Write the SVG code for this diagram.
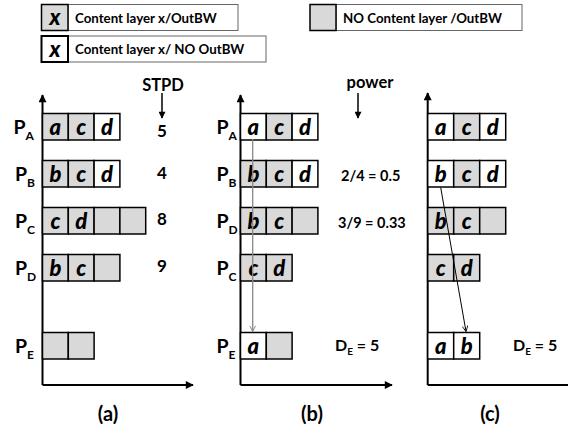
<svg xmlns="http://www.w3.org/2000/svg" width="568" height="432" viewBox="0 0 568 432">
<style>
.g{fill:#d9d9d9;stroke:#000;stroke-width:1.5}
.w{fill:#fff;stroke:#000;stroke-width:1.5}
.lb{fill:#fff;stroke:#666;stroke-width:1}
.c{font-family:Lato,"Open Sans","Liberation Sans",sans-serif;font-weight:900;font-style:italic;font-size:22px;text-anchor:middle;fill:#000}
.t{font-family:Lato,"Open Sans","Liberation Sans",sans-serif;font-weight:bold;fill:#000}
.P{font-size:19.5px}
.s{font-size:12px}
.lt{font-size:13.3px}
.lx{font-family:Lato,"Open Sans","Liberation Sans",sans-serif;font-weight:900;font-style:italic;font-size:22px;text-anchor:middle}
.ax{stroke:#000;stroke-width:2;fill:none}
</style>
<defs>
<marker id="ah" viewBox="0 0 10 10" refX="9" refY="5" markerUnits="userSpaceOnUse" markerWidth="9" markerHeight="8" orient="auto"><path d="M0,0L10,5L0,10z" fill="#000"/></marker>
<marker id="ah2" viewBox="0 0 10 10" refX="9" refY="5" markerUnits="userSpaceOnUse" markerWidth="8" markerHeight="7" orient="auto"><path d="M0,0L10,5L0,10z" fill="#000"/></marker>
<marker id="vg" viewBox="0 0 10 10" refX="9" refY="5" markerUnits="userSpaceOnUse" markerWidth="7" markerHeight="7" orient="auto"><path d="M1,1L9,5L1,9" fill="none" stroke="#888" stroke-width="1.4"/></marker>
<marker id="vk" viewBox="0 0 10 10" refX="9" refY="5" markerUnits="userSpaceOnUse" markerWidth="7" markerHeight="7" orient="auto"><path d="M1,1L9,5L1,9" fill="none" stroke="#000" stroke-width="1.2"/></marker>
</defs>

<g id="legend">
<g id="legend-content-outbw">
<rect class="lb" x="68" y="4.5" width="170" height="26"/>
<rect class="g" x="41.5" y="4.5" width="26.5" height="26"/>
<text class="lx" x="55" y="25">x</text>
<text class="t lt" x="75" y="22.5">Content layer x/OutBW</text>
</g>
<g id="legend-content-no-outbw">
<rect class="lb" x="68" y="36" width="198" height="26"/>
<rect x="41.5" y="36" width="26.5" height="26" fill="#fff" stroke="#000" stroke-width="2"/>
<text class="lx" x="55" y="56.5">x</text>
<text class="t lt" x="75" y="54">Content layer x/ NO OutBW</text>
</g>
<g id="legend-no-content-outbw">
<rect class="lb" x="336" y="4.5" width="186" height="26"/>
<rect class="g" x="310" y="4.5" width="26" height="26"/>
<text class="t lt" x="343" y="22.5">NO Content layer /OutBW</text>
</g>
</g>

<g id="axes">
<line class="ax" x1="42.5" y1="385" x2="42.5" y2="95" marker-end="url(#ah)"/>
<line class="ax" x1="42.5" y1="385" x2="193" y2="385" marker-end="url(#ah)"/>
<line class="ax" x1="240.5" y1="385" x2="240.5" y2="95" marker-end="url(#ah)"/>
<line class="ax" x1="240.5" y1="385" x2="392" y2="385" marker-end="url(#ah)"/>
<line class="ax" x1="427.7" y1="385" x2="427.7" y2="93" marker-end="url(#ah)"/>
<line class="ax" x1="427.7" y1="385" x2="568" y2="385"/>
</g>

<g id="panel-a">
<g id="a-PA">
<text class="t P" x="13.5" y="133.5">P<tspan class="s" dy="6.5">A</tspan></text>
<rect class="g" x="42.5" y="113.5" width="25.8" height="26.5"/><rect class="g" x="68.3" y="113.5" width="25.8" height="26.5"/><rect class="w" x="94.1" y="113.5" width="25.8" height="26.5"/>
<text class="c" x="55.4" y="135">a</text><text class="c" x="81.2" y="135">c</text><text class="c" x="107" y="135">d</text>
<text class="t" x="162" y="137" font-size="17" text-anchor="middle">5</text>
</g>
<g id="a-PB">
<text class="t P" x="15" y="180.5">P<tspan class="s" dy="6.5">B</tspan></text>
<rect class="g" x="42.5" y="160.5" width="25.8" height="26.5"/><rect class="g" x="68.3" y="160.5" width="25.8" height="26.5"/><rect class="w" x="94.1" y="160.5" width="25.8" height="26.5"/>
<text class="c" x="55.4" y="182">b</text><text class="c" x="81.2" y="182">c</text><text class="c" x="107" y="182">d</text>
<text class="t" x="162" y="178.5" font-size="17" text-anchor="middle">4</text>
</g>
<g id="a-PC">
<text class="t P" x="15" y="227.5">P<tspan class="s" dy="6.5">C</tspan></text>
<rect class="g" x="42.5" y="207.5" width="25.8" height="26.5"/><rect class="g" x="68.3" y="207.5" width="25.8" height="26.5"/><rect class="g" x="94.1" y="207.5" width="25.8" height="26.5"/><rect class="g" x="119.9" y="207.5" width="25.8" height="26.5"/>
<text class="c" x="55.4" y="229">c</text><text class="c" x="81.2" y="229">d</text>
<text class="t" x="162" y="225" font-size="17" text-anchor="middle">8</text>
</g>
<g id="a-PD">
<text class="t P" x="15" y="274.5">P<tspan class="s" dy="6.5">D</tspan></text>
<rect class="g" x="42.5" y="254.5" width="25.8" height="26.5"/><rect class="g" x="68.3" y="254.5" width="25.8" height="26.5"/><rect class="g" x="94.1" y="254.5" width="25.8" height="26.5"/>
<text class="c" x="55.4" y="276">b</text><text class="c" x="81.2" y="276">c</text>
<text class="t" x="162" y="272" font-size="17" text-anchor="middle">9</text>
</g>
<g id="a-PE">
<text class="t P" x="15" y="352.5">P<tspan class="s" dy="6.5">E</tspan></text>
<rect class="g" x="42.5" y="332.5" width="25.8" height="26.5"/><rect class="g" x="68.3" y="332.5" width="25.8" height="26.5"/>
</g>
<text class="t" x="163" y="91" font-size="16.5" text-anchor="middle">STPD</text>
<text class="t" x="108" y="421" font-size="20" text-anchor="middle">(a)</text>
</g>

<g id="panel-b">
<g id="b-PA">
<text class="t P" x="216.5" y="133.5">P<tspan class="s" dy="6.5">A</tspan></text>
<rect class="w" x="240.5" y="113.5" width="25.8" height="26.5"/><rect class="g" x="266.3" y="113.5" width="25.8" height="26.5"/><rect class="w" x="292.1" y="113.5" width="25.8" height="26.5"/>
<text class="c" x="253.4" y="135">a</text><text class="c" x="279.2" y="135">c</text><text class="c" x="305" y="135">d</text>
</g>
<g id="b-PB">
<text class="t P" x="216.5" y="180.5">P<tspan class="s" dy="6.5">B</tspan></text>
<rect class="g" x="240.5" y="160.5" width="25.8" height="26.5"/><rect class="g" x="266.3" y="160.5" width="25.8" height="26.5"/><rect class="w" x="292.1" y="160.5" width="25.8" height="26.5"/>
<text class="c" x="253.4" y="182">b</text><text class="c" x="279.2" y="182">c</text><text class="c" x="305" y="182">d</text>
<text class="t" x="341" y="181" font-size="14.5">2/4 = 0.5</text>
</g>
<g id="b-PD">
<text class="t P" x="216.5" y="227.5">P<tspan class="s" dy="6.5">D</tspan></text>
<rect class="g" x="240.5" y="207.5" width="25.8" height="26.5"/><rect class="g" x="266.3" y="207.5" width="25.8" height="26.5"/><rect class="g" x="292.1" y="207.5" width="25.8" height="26.5"/>
<text class="c" x="253.4" y="229">b</text><text class="c" x="279.2" y="229">c</text>
<text class="t" x="338" y="228" font-size="14.5">3/9 = 0.33</text>
</g>
<g id="b-PC">
<text class="t P" x="216.5" y="274.5">P<tspan class="s" dy="6.5">C</tspan></text>
<rect class="g" x="240.5" y="254.5" width="25.8" height="26.5"/><rect class="g" x="266.3" y="254.5" width="25.8" height="26.5"/>
<text class="c" x="253.4" y="276">c</text><text class="c" x="279.2" y="276">d</text>
</g>
<g id="b-PE">
<text class="t P" x="216.5" y="352.5">P<tspan class="s" dy="6.5">E</tspan></text>
<rect class="w" x="240.5" y="332.5" width="25.8" height="26.5"/><rect class="g" x="266.3" y="332.5" width="25.8" height="26.5"/>
<text class="c" x="253.4" y="354">a</text>
<text class="t" x="335" y="351" font-size="16">D<tspan font-size="10" dy="4">E</tspan><tspan dy="-4"> = 5</tspan></text>
</g>
<text class="t" x="370" y="88" font-size="16.5" text-anchor="middle">power</text>
<text class="t" x="312" y="421" font-size="20" text-anchor="middle">(b)</text>
</g>

<g id="panel-c">
<g id="c-r1">
<rect class="w" x="427.7" y="113.5" width="26" height="26.5"/><rect class="g" x="453.7" y="113.5" width="26" height="26.5"/><rect class="w" x="479.7" y="113.5" width="26" height="26.5"/>
<text class="c" x="440.7" y="135">a</text><text class="c" x="466.7" y="135">c</text><text class="c" x="492.7" y="135">d</text>
</g>
<g id="c-r2">
<rect class="w" x="427.7" y="160.5" width="26" height="26.5"/><rect class="g" x="453.7" y="160.5" width="26" height="26.5"/><rect class="w" x="479.7" y="160.5" width="26" height="26.5"/>
<text class="c" x="440.7" y="182">b</text><text class="c" x="466.7" y="182">c</text><text class="c" x="492.7" y="182">d</text>
</g>
<g id="c-r3">
<rect class="g" x="427.7" y="207.5" width="26" height="26.5"/><rect class="g" x="453.7" y="207.5" width="26" height="26.5"/><rect class="g" x="479.7" y="207.5" width="26" height="26.5"/>
<text class="c" x="440.7" y="229">b</text><text class="c" x="466.7" y="229">c</text>
</g>
<g id="c-r4">
<rect class="g" x="427.7" y="254.5" width="26" height="26.5"/><rect class="g" x="453.7" y="254.5" width="26" height="26.5"/>
<text class="c" x="440.7" y="276">c</text><text class="c" x="466.7" y="276">d</text>
</g>
<g id="c-r5">
<rect class="w" x="427.7" y="332.5" width="26" height="26.5"/><rect class="w" x="453.7" y="332.5" width="26" height="26.5"/>
<text class="c" x="440.7" y="354">a</text><text class="c" x="466.7" y="354">b</text>
<text class="t" x="513" y="351" font-size="16">D<tspan font-size="10" dy="4">E</tspan><tspan dy="-4"> = 5</tspan></text>
</g>
<text class="t" x="490" y="421" font-size="20" text-anchor="middle">(c)</text>
</g>

<g id="connectors">
<line x1="162" y1="93" x2="162" y2="118" stroke="#000" stroke-width="1.5" marker-end="url(#ah2)"/>
<line x1="358" y1="93" x2="358" y2="118" stroke="#000" stroke-width="1.5" marker-end="url(#ah2)"/>
<line x1="252.7" y1="139" x2="252.7" y2="331.5" stroke="#888" stroke-width="1.3" marker-end="url(#vg)"/>
<line x1="440.7" y1="187.5" x2="466" y2="331.5" stroke="#000" stroke-width="1" marker-end="url(#vk)"/>
</g>
</svg>
